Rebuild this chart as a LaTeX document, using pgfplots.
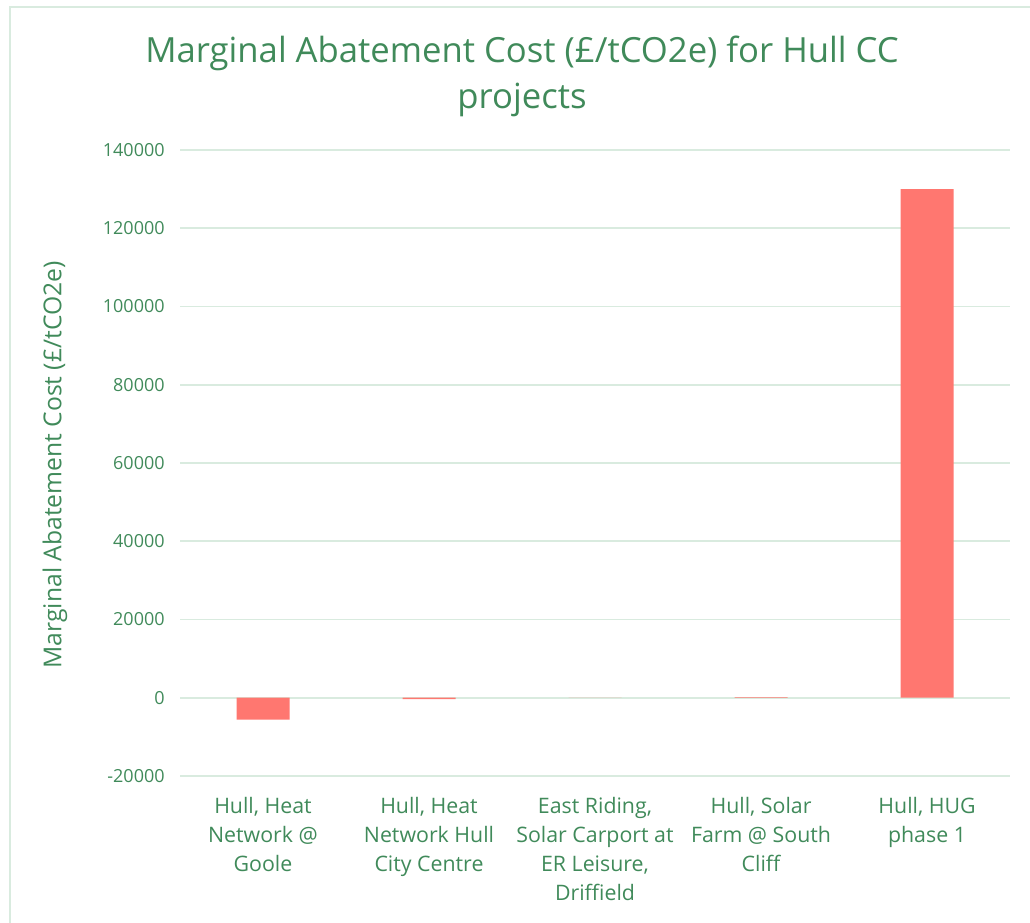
\documentclass[border=0pt]{standalone}
\usepackage{pgfplots}
\pgfplotsset{compat=1.18}
\usepackage{fontspec}
\setmainfont{Open Sans}
\definecolor{txt}{RGB}{64,138,90}
\definecolor{gridc}{RGB}{217,235,223}
\definecolor{barc}{RGB}{255,119,112}
\definecolor{bord}{RGB}{217,235,223}
\begin{document}
\begin{tikzpicture}
\useasboundingbox (0,0) rectangle (772.5pt,692.25pt);
\draw[bord, line width=1pt] (7.5pt,-20pt) rectangle (800pt,687pt);
\node[txt, align=center, font=\fontsize{26}{34}\selectfont] at (391.5pt,635pt) {Marginal Abatement Cost (£/tCO2e) for Hull CC\\projects};
\begin{axis}[
  at={(135pt,110.25pt)}, anchor=south west,
  scale only axis, width=622.5pt, height=469.5pt,
  xmin=-0.5, xmax=4.5, ymin=-20000, ymax=140000,
  ytick={-20000,0,20000,40000,60000,80000,100000,120000,140000},
  xtick={0,1,2,3,4},
  xticklabels={{Hull, Heat\\Network @\\Goole},{Hull, Heat\\Network Hull\\City Centre},{East Riding,\\Solar Carport at\\ER Leisure,\\Driffield},{Hull, Solar\\Farm @ South\\Cliff},{Hull, HUG\\phase 1}},
  xticklabel style={align=center, font=\fontsize{16}{21.75}\selectfont, text=txt, yshift=-12.5pt},
  yticklabel style={font=\fontsize{13.5}{16}\selectfont, text=txt, xshift=-8pt},
  /pgf/number format/assume math mode=true,
  scaled y ticks=false,
  yticklabel={\pgfmathprintnumber[fixed,1000 sep={}]{\tick}},
  axis line style={draw=none},
  major tick length=0pt,
  xmajorgrids=false, ymajorgrids=true,
  y grid style={draw=gridc, line width=1.2pt},
  ylabel={Marginal Abatement Cost (£/tCO2e)},
  ylabel style={at={(axis description cs:-0.1506,0.497)}, anchor=center, font=\fontsize{18.5}{20}\selectfont, text=txt},
  ybar, bar width=39.75pt,
]
\addplot[fill=barc, draw=none, bar shift=0pt] coordinates {(0,-5600) (1,-350) (2,20) (3,150) (4,130000)};
\end{axis}
\end{tikzpicture}
\end{document}
